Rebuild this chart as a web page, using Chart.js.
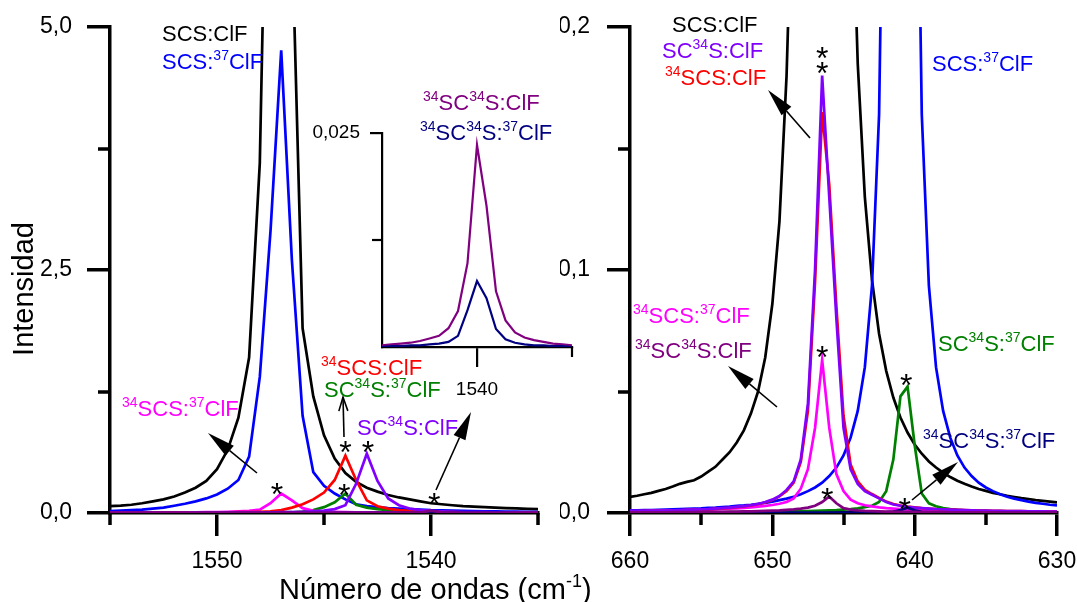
<!DOCTYPE html>
<html lang="es">
<head>
<meta charset="UTF-8">
<title>Espectro SCS:ClF</title>
<script src="https://cdn.jsdelivr.net/npm/chart.js"></script>
<style>
  body { margin: 0; background: #fff; }
  #wrap { position: relative; width: 1077px; height: 602px; overflow: hidden; background: #fff; }
  canvas { position: absolute; left: 0; top: 0; }
</style>
</head>
<body>
<div id="wrap">
  <canvas id="leftChart" width="1077" height="602"></canvas>
  <canvas id="rightChart" width="1077" height="602"></canvas>
  <canvas id="insetChart" width="1077" height="602"></canvas>
</div>
<script>
const FONT = '"Liberation Sans", Arial, sans-serif';
Chart.defaults.font.family = FONT;
Chart.defaults.color = '#000';

// ---- left panel (1555 - 1535 cm-1) ----
const leftX = [1555,1554.5,1554,1553.5,1553,1552.5,1552,1551.5,1551,1550.5,1550,1549.5,1549,1548.5,1548,1547.5,1547,1546.5,1546,1545.5,1545,1544.5,1544,1543.5,1543,1542.5,1542,1541.5,1541,1540.5,1540,1539.5,1539,1538.5,1538,1537.5,1537,1536.5,1536,1535.5,1535];
const leftSCS = [0.07,0.075,0.085,0.10,0.12,0.14,0.17,0.21,0.26,0.33,0.45,0.65,0.98,1.6,3.6,9.0,18,6.0,1.9,1.2,0.8,0.56,0.41,0.32,0.26,0.22,0.185,0.16,0.14,0.12,0.10,0.09,0.08,0.07,0.065,0.06,0.055,0.05,0.047,0.043,0.04];
const leftSCS37 = [0.02,0.025,0.03,0.035,0.045,0.055,0.075,0.095,0.12,0.15,0.19,0.25,0.34,0.58,1.4,2.9,4.76,2.6,1.0,0.42,0.28,0.2,0.14,0.09,0.07,0.06,0.05,0.045,0.04,0.035,0.03,0.028,0.025,0.022,0.02,0.018,0.016,0.015,0.014,0.013,0.012];
const left34SCS37 = [0.003,0.003,0.004,0.004,0.004,0.005,0.005,0.006,0.007,0.008,0.01,0.012,0.016,0.022,0.035,0.1,0.2,0.13,0.05,0.022,0.015,0.011,0.009,0.007,0.006,0.005,0.005,0.004,0.004,0.003,0.003,0.003,0.003,0.002,0.002,0.002,0.002,0.002,0.002,0.002,0.002];
const left34SCS = [0.002,0.002,0.002,0.003,0.003,0.003,0.004,0.004,0.005,0.005,0.006,0.007,0.008,0.01,0.013,0.018,0.03,0.055,0.09,0.14,0.21,0.34,0.59,0.34,0.13,0.07,0.045,0.03,0.022,0.017,0.013,0.01,0.008,0.007,0.006,0.005,0.004,0.004,0.003,0.003,0.003];
const leftSC34S = [0.001,0.001,0.001,0.001,0.002,0.002,0.002,0.002,0.003,0.003,0.003,0.003,0.004,0.004,0.005,0.006,0.008,0.01,0.013,0.018,0.025,0.04,0.08,0.3,0.61,0.33,0.15,0.08,0.045,0.03,0.022,0.017,0.013,0.01,0.009,0.008,0.007,0.006,0.005,0.005,0.004];
const leftSC34S37 = [0.001,0.001,0.001,0.001,0.001,0.001,0.002,0.002,0.002,0.002,0.002,0.003,0.003,0.003,0.004,0.005,0.006,0.008,0.015,0.03,0.06,0.11,0.2,0.085,0.055,0.04,0.03,0.022,0.017,0.013,0.01,0.008,0.007,0.006,0.005,0.004,0.004,0.003,0.003,0.003,0.002];
const left34SC34S = [0.0003,0.0003,0.0003,0.0003,0.0003,0.0003,0.0003,0.0003,0.0004,0.0004,0.0004,0.0004,0.0004,0.0005,0.0005,0.0005,0.0005,0.0006,0.0006,0.0007,0.0007,0.0008,0.0009,0.001,0.0012,0.0014,0.0017,0.0022,0.003,0.0045,0.024,0.0065,0.0032,0.0022,0.0016,0.0012,0.001,0.0008,0.0007,0.0006,0.0005];
const left34SC34S37 = [0.0001,0.0001,0.0001,0.0001,0.0001,0.0001,0.0001,0.0001,0.0001,0.0001,0.0001,0.0001,0.0001,0.0002,0.0002,0.0002,0.0002,0.0002,0.0002,0.0002,0.0002,0.0003,0.0003,0.0003,0.0004,0.0004,0.0005,0.0007,0.0009,0.0014,0.0077,0.0021,0.001,0.0007,0.0005,0.0004,0.0003,0.0003,0.0002,0.0002,0.0002];

// ---- inset (around 1540 cm-1) ----
const insetX = [1542,1541.8,1541.6,1541.4,1541.2,1541,1540.8,1540.6,1540.4,1540.2,1540,1539.8,1539.6,1539.4,1539.2,1539,1538.8,1538.6,1538.4,1538.2,1538];
const inset34SC34S = [0.0002,0.0003,0.0004,0.0005,0.0007,0.001,0.0013,0.0022,0.0042,0.0098,0.0236,0.0165,0.0065,0.0031,0.0017,0.0011,0.0008,0.0006,0.0004,0.0003,0.0002];
const inset34SC34S37 = [0,0.0001,0.0001,0.0002,0.0002,0.0003,0.0004,0.0006,0.0013,0.0043,0.0077,0.0057,0.0021,0.0009,0.0005,0.0003,0.0002,0.0002,0.0001,0.0001,0];

// ---- right panel (660 - 630 cm-1) ----
const rightX = [660,659.5,659,658.5,658,657.5,657,656.5,656,655.5,655,654.5,654,653.5,653,652.5,652,651.5,651,650.5,650,649.5,649,648.5,648,647.5,647,646.5,646,645.5,645,644.5,644,643.5,643,642.5,642,641.5,641,640.5,640,639.5,639,638.5,638,637.5,637,636.5,636,635.5,635,634.5,634,633.5,633,632.5,632,631.5,631,630.5,630];
const rightSCS = [0.0066,0.0071,0.0077,0.0083,0.0091,0.0099,0.0109,0.012,0.0128,0.0135,0.015,0.017,0.019,0.022,0.025,0.029,0.034,0.041,0.05,0.064,0.086,0.12,0.18,0.28,0.48,0.96,2.4,4.8,2.4,0.96,0.48,0.28,0.185,0.13,0.096,0.0738,0.0585,0.0475,0.0393,0.0331,0.0282,0.0244,0.0212,0.0187,0.0166,0.0148,0.0133,0.012,0.0109,0.0099,0.0091,0.0083,0.0077,0.0071,0.0066,0.0061,0.0057,0.0053,0.005,0.0047,0.0044];
const rightSCS37 = [0.0011,0.0011,0.0012,0.0012,0.0013,0.0014,0.0015,0.0016,0.0017,0.0018,0.0019,0.0021,0.0022,0.0024,0.0026,0.0029,0.0031,0.0034,0.0038,0.0042,0.0047,0.0053,0.0059,0.0067,0.0077,0.009,0.0105,0.0125,0.0152,0.0187,0.0237,0.031,0.042,0.06,0.0935,0.164,0.36,1.22,6,1.22,0.36,0.164,0.0935,0.06,0.042,0.031,0.0237,0.0187,0.0152,0.0125,0.0105,0.009,0.0077,0.0067,0.0059,0.0053,0.0047,0.0042,0.0038,0.0034,0.0031];
const rightSC34S = [0.0008,0.0008,0.0009,0.0009,0.001,0.001,0.0011,0.0012,0.0013,0.0014,0.0015,0.0016,0.0018,0.002,0.0022,0.0025,0.0028,0.0032,0.0037,0.0045,0.0055,0.007,0.0095,0.013,0.022,0.045,0.1,0.18,0.13,0.08,0.035,0.018,0.012,0.009,0.0075,0.006,0.0045,0.0035,0.003,0.0025,0.0022,0.002,0.0018,0.0016,0.0015,0.0014,0.0013,0.0012,0.0011,0.001,0.001,0.0009,0.0009,0.0008,0.0008,0.0008,0.0007,0.0007,0.0007,0.0006,0.0006];
const right34SCS = [0.0007,0.0007,0.0008,0.0008,0.0009,0.0009,0.001,0.0011,0.0012,0.0013,0.0014,0.0015,0.0017,0.0019,0.0021,0.0024,0.0027,0.0031,0.0036,0.0043,0.0053,0.0068,0.009,0.0125,0.021,0.042,0.095,0.165,0.135,0.085,0.04,0.02,0.013,0.0095,0.0078,0.0062,0.0047,0.0037,0.0031,0.0026,0.0023,0.002,0.0018,0.0016,0.0015,0.0014,0.0013,0.0012,0.0011,0.001,0.001,0.0009,0.0009,0.0008,0.0008,0.0008,0.0007,0.0007,0.0007,0.0006,0.0006];
const right34SCS37 = [0.0008,0.0008,0.0008,0.0009,0.0009,0.001,0.001,0.0011,0.0012,0.0012,0.0013,0.0014,0.0015,0.0016,0.0018,0.0019,0.0021,0.0023,0.0026,0.0029,0.0033,0.0038,0.0045,0.006,0.01,0.018,0.035,0.063,0.035,0.016,0.009,0.0055,0.004,0.0032,0.0027,0.0023,0.002,0.0018,0.0016,0.0014,0.0013,0.0012,0.0011,0.001,0.001,0.0009,0.0009,0.0008,0.0008,0.0008,0.0007,0.0007,0.0007,0.0006,0.0006,0.0006,0.0006,0.0006,0.0005,0.0005,0.0005];
const rightSC34S37 = [0.0002,0.0002,0.0002,0.0002,0.0002,0.0002,0.0002,0.0003,0.0003,0.0003,0.0003,0.0003,0.0003,0.0003,0.0004,0.0004,0.0004,0.0004,0.0005,0.0005,0.0005,0.0006,0.0006,0.0007,0.0007,0.0008,0.0009,0.001,0.0011,0.0012,0.0014,0.0016,0.0019,0.0024,0.003,0.0045,0.009,0.022,0.048,0.052,0.028,0.008,0.004,0.0028,0.002,0.0016,0.0013,0.0011,0.001,0.0009,0.0008,0.0007,0.0007,0.0006,0.0006,0.0005,0.0005,0.0005,0.0004,0.0004,0.0004];
const right34SC34S = [0.0003,0.0003,0.0003,0.0003,0.0003,0.0003,0.0004,0.0004,0.0004,0.0004,0.0004,0.0005,0.0005,0.0005,0.0006,0.0006,0.0007,0.0007,0.0008,0.0009,0.001,0.0011,0.0013,0.0015,0.0018,0.0022,0.003,0.0045,0.0068,0.004,0.002,0.0014,0.0011,0.0009,0.0008,0.0007,0.0006,0.0006,0.0005,0.0005,0.0005,0.0004,0.0004,0.0004,0.0004,0.0003,0.0003,0.0003,0.0003,0.0003,0.0003,0.0003,0.0002,0.0002,0.0002,0.0002,0.0002,0.0002,0.0002,0.0002,0.0002];
const right34SC34S37 = [0.0001,0.0001,0.0001,0.0001,0.0001,0.0001,0.0001,0.0001,0.0001,0.0001,0.0001,0.0001,0.0001,0.0001,0.0001,0.0001,0.0001,0.0001,0.0001,0.0001,0.0002,0.0002,0.0002,0.0002,0.0002,0.0002,0.0002,0.0002,0.0002,0.0002,0.0002,0.0002,0.0002,0.0002,0.0003,0.0003,0.0004,0.0006,0.0012,0.0022,0.0011,0.0005,0.0004,0.0003,0.0002,0.0002,0.0002,0.0002,0.0002,0.0002,0.0002,0.0001,0.0001,0.0001,0.0001,0.0001,0.0001,0.0001,0.0001,0.0001,0.0001];

const C = {
  black: '#000000', blue: '#0000ff', magenta: '#ff00ff', red: '#ff0000',
  green: '#008000', violet: '#8000ff', purple: '#800080', navy: '#000080'
};

function pts(xs, ys) { return xs.map((x, i) => ({ x: x, y: ys[i] })); }
function line(label, xs, ys, color, w) {
  return { label: label, data: pts(xs, ys), borderColor: color, borderWidth: w,
           pointRadius: 0, fill: false, tension: 0 };
}
const near = (v, step) => Math.abs(v / step - Math.round(v / step)) < 1e-6;

// text with ^{..} superscripts
function rich(ctx, str, x, y, size, color) {
  const parts = str.split(/(\^\{[^}]*\})/).filter(Boolean);
  ctx.fillStyle = color;
  ctx.textAlign = 'left';
  ctx.textBaseline = 'alphabetic';
  let cx = x;
  parts.forEach(p => {
    if (p.startsWith('^{')) {
      const t = p.slice(2, -1);
      ctx.font = Math.round(size * 0.62) + 'px ' + FONT;
      ctx.fillText(t, cx, y - size * 0.4);
      cx += ctx.measureText(t).width;
    } else {
      ctx.font = size + 'px ' + FONT;
      ctx.fillText(p, cx, y);
      cx += ctx.measureText(p).width;
    }
  });
}

function arrow(ctx, a) {
  const [x1, y1] = a.from, [x2, y2] = a.to;
  const ang = Math.atan2(y2 - y1, x2 - x1);
  const L = a.open ? 14 : 28, W = a.open ? 4.5 : 6.5;
  const bx = x2 - L * Math.cos(ang), by = y2 - L * Math.sin(ang);
  const sx = W * Math.sin(ang), sy = W * Math.cos(ang);
  ctx.strokeStyle = '#000'; ctx.fillStyle = '#000'; ctx.lineWidth = 1.6;
  ctx.beginPath(); ctx.moveTo(x1, y1); ctx.lineTo(a.open ? x2 : bx, a.open ? y2 : by); ctx.stroke();
  ctx.beginPath();
  if (a.open) {
    ctx.moveTo(bx + sx, by - sy); ctx.lineTo(x2, y2); ctx.lineTo(bx - sx, by + sy);
    ctx.stroke();
  } else {
    ctx.moveTo(x2, y2); ctx.lineTo(bx + sx, by - sy); ctx.lineTo(bx - sx, by + sy);
    ctx.closePath(); ctx.fill();
  }
}

const notesPlugin = {
  id: 'notes',
  afterDraw(chart, args, o) {
    const ctx = chart.ctx, xs = chart.scales.x, ys = chart.scales.y, ar = chart.chartArea;
    ctx.save();
    ctx.strokeStyle = '#000';
    ctx.lineWidth = o.tickWidth;
    (o.minorX || []).forEach(v => {
      const px = Math.round(xs.getPixelForValue(v));
      ctx.beginPath(); ctx.moveTo(px, ar.bottom); ctx.lineTo(px, ar.bottom + o.minorLen); ctx.stroke();
    });
    (o.minorY || []).forEach(v => {
      const py = Math.round(ys.getPixelForValue(v));
      ctx.beginPath(); ctx.moveTo(ar.left, py); ctx.lineTo(ar.left - o.minorLen, py); ctx.stroke();
    });
    (o.arrows || []).forEach(a => arrow(ctx, a));
    ctx.fillStyle = '#000';
    ctx.textAlign = 'center';
    ctx.textBaseline = 'alphabetic';
    ctx.font = '32px ' + FONT;
    (o.stars || []).forEach(s => {
      ctx.fillText('*', xs.getPixelForValue(s[0]), ys.getPixelForValue(s[1]) + 18);
    });
    (o.labels || []).forEach(l => rich(ctx, l.t, l.x, l.y, 22, l.c));
    (o.titles || []).forEach(t => {
      ctx.save();
      ctx.translate(t.x, t.y);
      if (t.rot) {
        ctx.rotate(-Math.PI / 2);
        ctx.font = t.size + 'px ' + FONT;
        ctx.fillStyle = '#000';
        ctx.textAlign = 'center';
        ctx.textBaseline = 'middle';
        ctx.fillText(t.t, 0, 0);
      } else {
        rich(ctx, t.t, 0, 0, t.size, '#000');
      }
      ctx.restore();
    });
    ctx.restore();
  }
};

function axis(opts) {
  return {
    type: 'linear', min: opts.min, max: opts.max, reverse: !!opts.reverse,
    afterFit: s => {
      opts.fit(s);
      s.paddingLeft = 0; s.paddingRight = 0; s.paddingTop = 0; s.paddingBottom = 0;
    },
    ticks: {
      stepSize: opts.step, autoSkip: false, maxRotation: 0, padding: opts.pad,
      font: { size: opts.font },
      callback: opts.label
    },
    grid: {
      drawOnChartArea: false, drawTicks: true, tickLength: opts.tickLen,
      lineWidth: opts.tickWidth,
      color: c => (c.tick && opts.major(c.tick.value)) ? '#000' : 'rgba(0,0,0,0)'
    },
    border: { display: true, color: '#000', width: opts.tickWidth }
  };
}

const common = {
  responsive: false, animation: false, devicePixelRatio: 1,
  plugins: { legend: { display: false }, tooltip: { enabled: false } }
};

const leftChart = new Chart(document.getElementById('leftChart'), {
  type: 'line',
  data: { datasets: [
    line('34SC34S:ClF', leftX, left34SC34S, C.purple, 2.7),
    line('34SC34S:37ClF', leftX, left34SC34S37, C.navy, 2.7),
    line('SC34S:ClF', leftX, leftSC34S, C.violet, 2.7),
    line('34SCS:ClF', leftX, left34SCS, C.red, 2.7),
    line('34SCS:37ClF', leftX, left34SCS37, C.magenta, 2.7),
    line('SC34S:37ClF', leftX, leftSC34S37, C.green, 2.7),
    line('SCS:37ClF', leftX, leftSCS37, C.blue, 2.7),
    line('SCS:ClF', leftX, leftSCS, C.black, 2.7)
  ] },
  plugins: [notesPlugin],
  options: Object.assign({}, common, {
    layout: { autoPadding: false, padding: { left: 0, top: 27, right: 539, bottom: 0 } },
    scales: {
      x: axis({ min: 1535, max: 1555, reverse: true, step: 5, pad: 12, font: 23, tickLen: 23, tickWidth: 3.5,
                fit: s => { s.height = 89; },
                major: v => near(v, 10), label: v => near(v, 10) ? String(v) : '' }),
      y: axis({ min: 0, max: 5, step: 1.25, pad: 15, font: 23, tickLen: 23, tickWidth: 3.5,
                fit: s => { s.width = 110; },
                major: v => near(v, 2.5), label: v => near(v, 2.5) ? v.toFixed(1).replace('.', ',') : '' })
    },
    plugins: Object.assign({}, common.plugins, {
      notes: {
        tickWidth: 3.5, minorLen: 12,
        minorX: [1555, 1545, 1535], minorY: [1.25, 3.75],
        stars: [[1547.2, 0.27], [1544.0, 0.70], [1542.95, 0.70], [1544.05, 0.26], [1539.85, 0.165]],
        arrows: [
          { from: [257, 473], to: [208, 433] },
          { from: [344, 437], to: [343, 397], open: true },
          { from: [436, 490], to: [471, 412] }
        ],
        labels: [
          { t: 'SCS:ClF', c: C.black, x: 162, y: 41 },
          { t: 'SCS:^{37}ClF', c: C.blue, x: 162, y: 69 },
          { t: '^{34}SCS:^{37}ClF', c: C.magenta, x: 122, y: 416 },
          { t: '^{34}SCS:ClF', c: C.red, x: 321, y: 375 },
          { t: 'SC^{34}S:^{37}ClF', c: C.green, x: 324, y: 397 },
          { t: 'SC^{34}S:ClF', c: C.violet, x: 357, y: 435 }
        ],
        titles: [
          { t: 'Intensidad', x: 25, y: 289, size: 29, rot: true },
          { t: 'Número de ondas (cm^{-1})', x: 279, y: 599, size: 29 }
        ]
      }
    })
  })
});

const rightChart = new Chart(document.getElementById('rightChart'), {
  type: 'line',
  data: { datasets: [
    line('34SC34S:ClF', rightX, right34SC34S, C.purple, 2.7),
    line('34SC34S:37ClF', rightX, right34SC34S37, C.navy, 2.7),
    line('SC34S:ClF', rightX, rightSC34S, C.violet, 2.7),
    line('34SCS:ClF', rightX, right34SCS, C.red, 2.7),
    line('34SCS:37ClF', rightX, right34SCS37, C.magenta, 2.7),
    line('SC34S:37ClF', rightX, rightSC34S37, C.green, 2.7),
    line('SCS:37ClF', rightX, rightSCS37, C.blue, 2.7),
    line('SCS:ClF', rightX, rightSCS, C.black, 2.7)
  ] },
  plugins: [notesPlugin],
  options: Object.assign({}, common, {
    layout: { autoPadding: false, padding: { left: 560, top: 27, right: 20, bottom: 0 } },
    scales: {
      x: axis({ min: 630, max: 660, reverse: true, step: 5, pad: 12, font: 23, tickLen: 23, tickWidth: 3.5,
                fit: s => { s.height = 89; },
                major: v => near(v, 10), label: v => near(v, 10) ? String(v) : '' }),
      y: axis({ min: 0, max: 0.2, step: 0.05, pad: 17, font: 23, tickLen: 23, tickWidth: 3.5,
                fit: s => { s.width = 70; },
                major: v => near(v, 0.1), label: v => near(v, 0.1) ? v.toFixed(1).replace('.', ',') : '' })
    },
    plugins: Object.assign({}, common.plugins, {
      notes: {
        tickWidth: 3.5, minorLen: 12,
        minorX: [655, 645, 635], minorY: [0.05, 0.15],
        stars: [[646.5, 0.19], [646.5, 0.184], [646.5, 0.067], [640.6, 0.0557], [646.15, 0.0087], [640.7, 0.0045]],
        arrows: [
          { from: [810, 138], to: [768, 90] },
          { from: [777, 407], to: [728, 366] },
          { from: [912, 500], to: [958, 462] }
        ],
        labels: [
          { t: 'SCS:ClF', c: C.black, x: 672, y: 32 },
          { t: 'SC^{34}S:ClF', c: C.violet, x: 662, y: 58 },
          { t: '^{34}SCS:ClF', c: C.red, x: 665, y: 85 },
          { t: 'SCS:^{37}ClF', c: C.blue, x: 932, y: 71 },
          { t: '^{34}SCS:^{37}ClF', c: C.magenta, x: 633, y: 323 },
          { t: '^{34}SC^{34}S:ClF', c: C.purple, x: 635, y: 358 },
          { t: 'SC^{34}S:^{37}ClF', c: C.green, x: 938, y: 351 },
          { t: '^{34}SC^{34}S:^{37}ClF', c: C.navy, x: 923, y: 448 }
        ]
      }
    })
  })
});

const insetChart = new Chart(document.getElementById('insetChart'), {
  type: 'line',
  data: { datasets: [
    line('34SC34S:37ClF', insetX, inset34SC34S37, C.navy, 2.2),
    line('34SC34S:ClF', insetX, inset34SC34S, C.purple, 2.2)
  ] },
  plugins: [notesPlugin],
  options: Object.assign({}, common, {
    layout: { autoPadding: false, padding: { left: 300, top: 133, right: 505, bottom: 0 } },
    scales: {
      x: axis({ min: 1538, max: 1542, reverse: true, step: 2, pad: 11, font: 19, tickLen: 20, tickWidth: 2.2,
                fit: s => { s.height = 255; },
                major: v => Math.abs(v - 1540) < 1e-6, label: v => Math.abs(v - 1540) < 1e-6 ? '1540' : '' }),
      y: axis({ min: 0, max: 0.025, step: 0.0125, pad: 10, font: 19, tickLen: 12, tickWidth: 2.2,
                fit: s => { s.width = 82; },
                major: v => Math.abs(v - 0.025) < 1e-9, label: v => Math.abs(v - 0.025) < 1e-9 ? '0,025' : '' })
    },
    plugins: Object.assign({}, common.plugins, {
      notes: {
        tickWidth: 2.2, minorLen: 10,
        minorX: [1538], minorY: [0.0125],
        labels: [
          { t: '^{34}SC^{34}S:ClF', c: C.purple, x: 423, y: 110 },
          { t: '^{34}SC^{34}S:^{37}ClF', c: C.navy, x: 420, y: 140 }
        ]
      }
    })
  })
});
</script>
</body>
</html>
